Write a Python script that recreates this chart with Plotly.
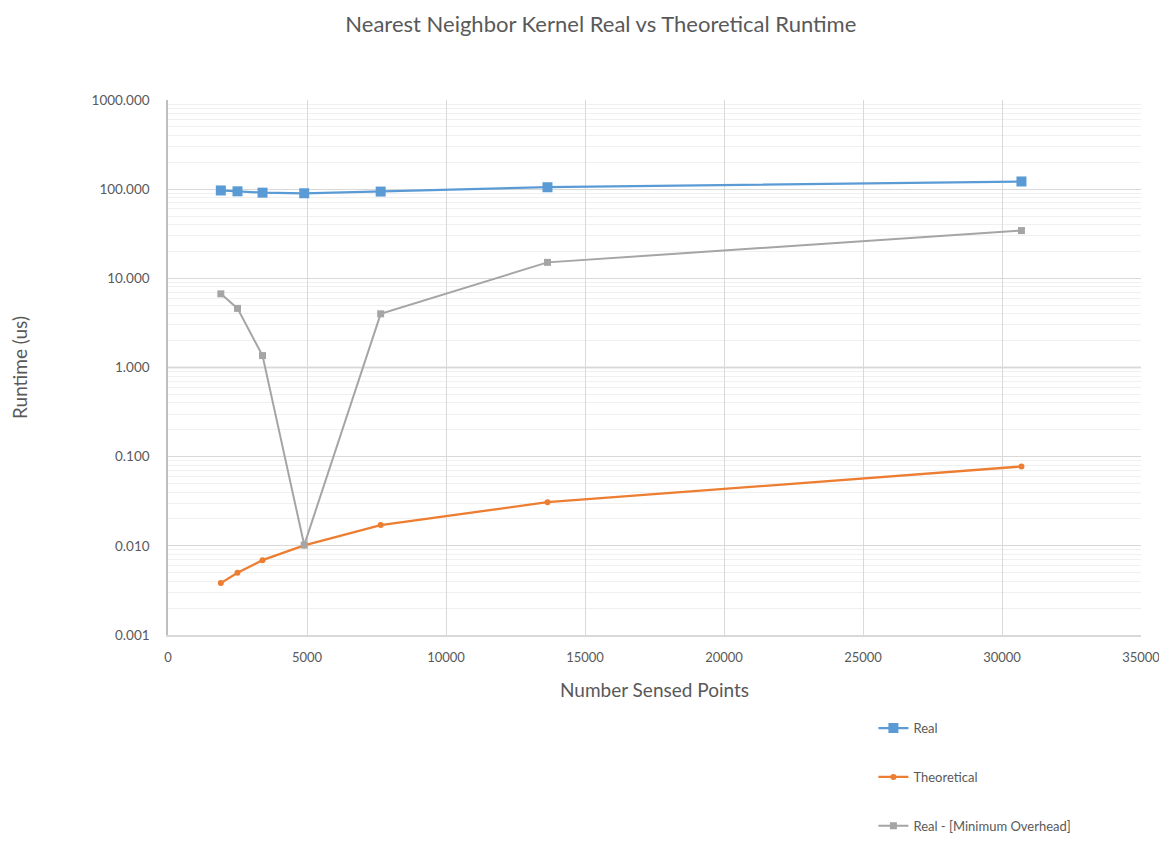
import plotly.graph_objects as go

points = [1900, 2500, 3400, 4900, 7650, 13650, 30700]
real = [96.7, 94.6, 91.4, 90.0, 94.0, 105.1, 122.0]
theoretical = [0.00382, 0.00499, 0.00691, 0.0101, 0.0171, 0.0309, 0.0776]
real_minus_overhead = [6.7, 4.6, 1.36, 0.0102, 4.0, 15.1, 34.3]

y_tickvals = [0.001, 0.01, 0.1, 1, 10, 100, 1000]
y_ticktext = ["0.001", "0.010", "0.100", "1.000", "10.000", "100.000", "1000.000"]
x_tickvals = [0, 5000, 10000, 15000, 20000, 25000, 30000, 35000]
x_ticktext = ["0", "5000", "10000", "15000", "20000", "25000", "30000", "35000"]

FONT = "Lato"
TXT = "#595959"

fig = go.Figure()
fig.add_trace(go.Scatter(x=points, y=real, name="Real", mode="lines+markers",
                         line=dict(color="#5B9BD5", width=2.25),
                         marker=dict(symbol="square", size=10, color="#5B9BD5"),
                         legendgroup="a"))
fig.add_trace(go.Scatter(x=points, y=theoretical, name="Theoretical", mode="lines+markers",
                         line=dict(color="#ED7D31", width=2.25),
                         marker=dict(symbol="circle", size=6, color="#ED7D31"),
                         legendgroup="b"))
fig.add_trace(go.Scatter(x=points, y=real_minus_overhead, name="Real - [Minimum Overhead]",
                         mode="lines+markers",
                         line=dict(color="#A5A5A5", width=2),
                         marker=dict(symbol="square", size=7, color="#A5A5A5"),
                         legendgroup="c"))

minor_vals = [m * 10 ** e for e in range(-3, 3) for m in range(2, 10)]

fig.add_shape(type="line", xref="paper", x0=0, x1=1, yref="y", y0=1, y1=1,
              line=dict(color="#BFBFBF", width=1.5), layer="below")

fig.update_layout(
    width=1167, height=841,
    margin=dict(l=160, r=34, t=92, b=214, autoexpand=False),
    paper_bgcolor="white", plot_bgcolor="white",
    font=dict(family=FONT, color=TXT, size=13),
    title=dict(text="Nearest Neighbor Kernel Real vs Theoretical Runtime",
               x=0.508, xanchor="center", y=0.981, yanchor="middle",
               font=dict(size=22, color=TXT, family=FONT)),
    showlegend=True,
    legend=dict(x=0.725, xanchor="left", y=-0.146, yanchor="top",
                tracegroupgap=29, font=dict(size=13, color=TXT),
                bgcolor="rgba(0,0,0,0)"),
    xaxis=dict(range=[0, 35000], tickvals=x_tickvals, ticktext=x_ticktext, showgrid=True,
               gridcolor="#D9D9D9", gridwidth=1.2, showline=True,
               linecolor="#D9D9D9", linewidth=1.5, ticks="", zeroline=False,
               automargin=False, ticklabelstandoff=10,
               tickfont=dict(size=13, color=TXT),
               title=dict(text="Number Sensed Points", font=dict(size=19, color=TXT),
                          standoff=19)),
    yaxis=dict(type="log", range=[-3, 3], tickvals=y_tickvals, ticktext=y_ticktext,
               showgrid=True, gridcolor="#D9D9D9", gridwidth=1.2, showline=True,
               linecolor="#BFBFBF", linewidth=1.5, ticks="", zeroline=False,
               automargin=False, ticklabelstandoff=14,
               tickfont=dict(size=13.5, color=TXT),
               minor=dict(showgrid=True, gridcolor="#F0F0F0", gridwidth=1,
                          tickvals=minor_vals),
               title=dict(text="Runtime (us)", font=dict(size=19, color=TXT),
                          standoff=62)),
)

fig.write_html("out.html")
